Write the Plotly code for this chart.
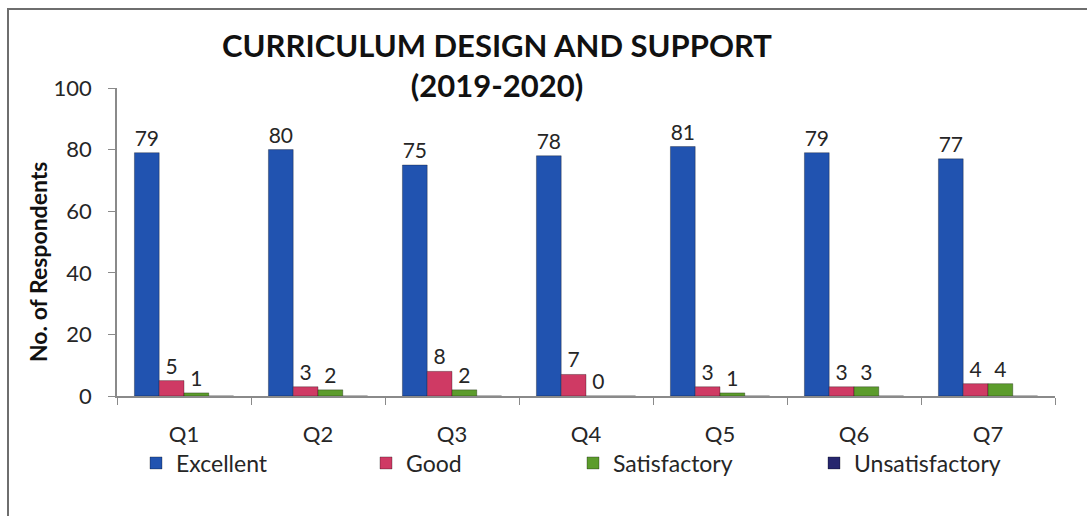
import plotly.graph_objects as go

categories = ["Q1", "Q2", "Q3", "Q4", "Q5", "Q6", "Q7"]
excellent = [79, 80, 75, 78, 81, 79, 77]
good = [5, 3, 8, 7, 3, 3, 4]
satisfactory = [1, 2, 2, 0, 1, 3, 4]
unsatisfactory = [0, 0, 0, 0, 0, 0, 0]

series = [
    ("Excellent", excellent, "#2153b0", True, 185),
    ("Good", good, "#cf3a64", True, 162),
    ("Satisfactory", satisfactory, "#5c9c2c", True, 196),
    ("Unsatisfactory", unsatisfactory, "#26266e", False, 170),
]

FONT = "Lato"
fig = go.Figure()
for name, vals, color, show_text, lw in series:
    fig.add_trace(go.Bar(
        name=name, x=categories, y=vals,
        marker=dict(color=color, line=dict(color="rgba(0,0,0,0.3)", width=1)),
        text=[str(v) for v in vals] if show_text else None,
        textposition="outside",
        textfont=dict(family=FONT, size=21, color="#262626"),
        cliponaxis=False,
        legendwidth=lw,
    ))

W, H = 1087, 516
L, R, T, B = 117, 32, 88, 120
pw, ph = W - L - R, H - T - B

def px_x(p):
    return (p - L) / pw

def px_y(p):
    return (H - B - p) / ph

fig.update_layout(
    width=W, height=H,
    margin=dict(l=L, r=R, t=T, b=B, autoexpand=False),
    paper_bgcolor="white", plot_bgcolor="white",
    barmode="group", bargap=0.26, bargroupgap=0,
    font=dict(family=FONT, size=20, color="#262626"),
    title=dict(
        text="CURRICULUM DESIGN AND SUPPORT<br>(2019-2020)",
        x=497 / W, xanchor="center",
        y=1 - 57 / H, yanchor="middle",
        font=dict(family=FONT, size=31, color="#111111", weight="bold"),
    ),
    showlegend=True,
    legend=dict(
        orientation="h", x=px_x(136), xanchor="left",
        y=px_y(463), yanchor="middle",
        font=dict(family=FONT, size=23, color="#262626"),
        itemwidth=30, bgcolor="rgba(0,0,0,0)",
        traceorder="normal",
    ),
    xaxis=dict(
        showgrid=False, showline=True, linecolor="#8a8a8a", linewidth=1.5,
        ticks="outside", tickson="boundaries", ticklen=7, tickcolor="#8a8a8a",
        tickfont=dict(family=FONT, size=22, color="#262626"),
        ticklabelstandoff=18,
    ),
    yaxis=dict(
        range=[0, 100], dtick=20, showgrid=False, zeroline=False,
        showline=True, linecolor="#8a8a8a", linewidth=1.5,
        ticks="outside", ticklen=7, tickcolor="#8a8a8a",
        tickfont=dict(family=FONT, size=22, color="#262626"),
        ticklabelstandoff=12,
    ),
    annotations=[dict(
        text="No. of Respondents", textangle=-90,
        xref="paper", yref="paper", x=px_x(38), y=px_y(262),
        xanchor="center", yanchor="middle", showarrow=False,
        font=dict(family=FONT, size=23, color="#111111", weight="bold"),
    )],
    shapes=[dict(
        type="rect", xref="paper", yref="paper",
        x0=px_x(8), x1=px_x(1092), y0=px_y(525), y1=px_y(9),
        line=dict(color="#6e6e6e", width=2), fillcolor="rgba(0,0,0,0)",
        layer="below",
    )],
)

fig.write_html("out.html", config={"displayModeBar": False},
               post_script="document.body.style.margin='0';")
